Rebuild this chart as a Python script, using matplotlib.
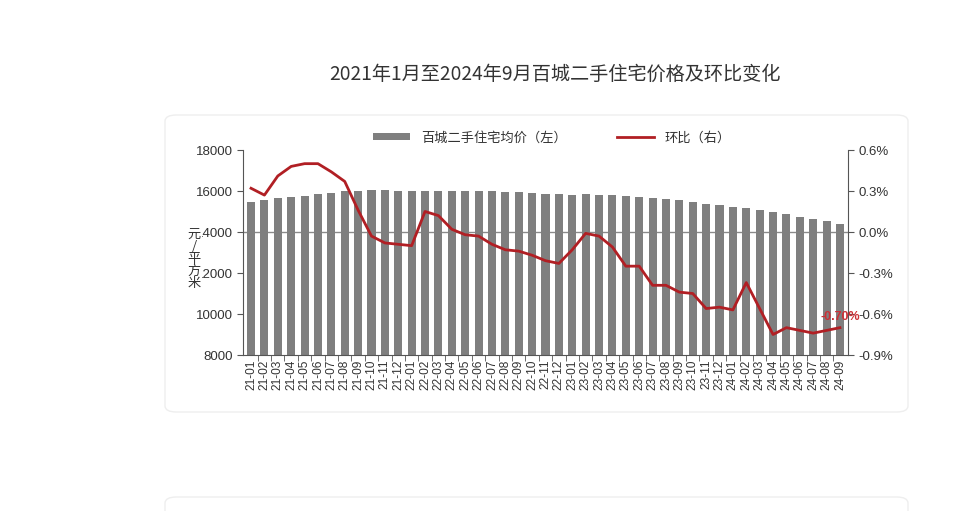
"""Build figure: 百城二手住宅价格及环比变化
"""
import numpy as np
import matplotlib
matplotlib.use('Agg')
import matplotlib.pyplot as plt
from matplotlib.patches import FancyBboxPatch
from matplotlib.lines import Line2D
from matplotlib.patches import Patch

plt.rcParams['font.family'] = ['Noto Sans CJK SC', 'DejaVu Sans']
plt.rcParams['axes.unicode_minus'] = False
num_font = ['Liberation Sans', 'Noto Sans CJK SC']

months = ['21-01', '21-02', '21-03', '21-04', '21-05', '21-06', '21-07', '21-08',
          '21-09', '21-10', '21-11', '21-12',
          '22-01', '22-02', '22-03', '22-04', '22-05', '22-06', '22-07', '22-08',
          '22-09', '22-10', '22-11', '22-12',
          '23-01', '23-02', '23-03', '23-04', '23-05', '23-06', '23-07', '23-08',
          '23-09', '23-10', '23-11', '23-12',
          '24-01', '24-02', '24-03', '24-04', '24-05', '24-06', '24-07', '24-08',
          '24-09']
# 百城二手住宅均价 (元/平方米)
price = [15480, 15550, 15640, 15690, 15770, 15860, 15900, 15990,
         16020, 16030, 16030, 16020,
         16010, 16010, 16020, 16020, 16020, 16010, 16000, 15960,
         15930, 15900, 15870, 15840,
         15810, 15830, 15820, 15800, 15760, 15710, 15640, 15600,
         15550, 15440, 15380, 15300,
         15240, 15150, 15060, 14980, 14870, 14750, 14640, 14560,
         14410]
# 环比 (%)
mom = [0.32, 0.27, 0.41, 0.48, 0.50, 0.50, 0.44, 0.37,
       0.16, -0.03, -0.08, -0.09,
       -0.10, 0.15, 0.12, 0.02, -0.02, -0.03, -0.09, -0.13,
       -0.14, -0.17, -0.21, -0.23,
       -0.13, -0.01, -0.03, -0.11, -0.25, -0.25, -0.39, -0.39,
       -0.44, -0.45, -0.56, -0.55,
       -0.57, -0.37, -0.56, -0.75, -0.70, -0.72, -0.74, -0.72,
       -0.70]
right_ticks = [0.6, 0.3, 0.0, -0.3, -0.6, -0.9]

x = np.arange(len(months))
txt = '#333333'

fig = plt.figure(figsize=(9.6, 5.11), dpi=100)

# светлая рамка вокруг графика
fig.patches.append(FancyBboxPatch((165 / 960, 1 - 412 / 511), 743 / 960, 297 / 511,
                                  boxstyle='round,pad=0,rounding_size=0.012',
                                  transform=fig.transFigure, facecolor='white',
                                  edgecolor='#eeeeee', lw=1, zorder=-5))
fig.patches.append(FancyBboxPatch((165 / 960, 1 - 530 / 511), 743 / 960, 33 / 511,
                                  boxstyle='round,pad=0,rounding_size=0.012',
                                  transform=fig.transFigure, facecolor='white',
                                  edgecolor='#eeeeee', lw=1, zorder=-5))

fig.text(0.578, 1 - 74 / 511, '2021年1月至2024年9月百城二手住宅价格及环比变化',
         ha='center', va='center', fontsize=13.8, color=txt)

ax = fig.add_axes([243 / 960, 1 - 355 / 511, 605 / 960, 205 / 511])
ax.set_facecolor('none')
ax.axhline(14000, color='#8a8a8a', lw=1, zorder=0)
ax.bar(x, price, width=0.6, color='#7f7f7f', zorder=2)
ax.set_ylim(8000, 18000)
ax.set_yticks(range(8000, 18001, 2000))
ax.set_xlim(-0.6, len(months) - 0.4)
ax.set_xticks(x)
ax.set_xticklabels(months, rotation=90, fontsize=8.6, color=txt, family=num_font)
ax.tick_params(axis='x', length=0, pad=3)
ax.set_xticks(x[:-1] + 0.5, minor=True)
ax.tick_params(axis='x', which='minor', length=4, color='#555555')
ax.tick_params(axis='y', labelsize=9.5, labelcolor=txt, length=4, color='#555555')
for lab in ax.get_yticklabels():
    lab.set_family(num_font)
ax.spines['top'].set_visible(False)
ax.spines['right'].set_visible(False)
for s in ('left', 'bottom'):
    ax.spines[s].set_color('#555555')

ax2 = ax.twinx()
ax2.plot(x, mom, color='#b11f24', lw=2, solid_joinstyle='round', zorder=3)
ax2.set_ylim(-0.9, 0.6)
ax2.set_yticks(right_ticks)
ax2.set_yticklabels(['%.1f%%' % v for v in right_ticks], family=num_font)
ax2.tick_params(axis='y', labelsize=9.5, labelcolor=txt, length=4, color='#555555')
for s in ('top', 'left', 'bottom'):
    ax2.spines[s].set_visible(False)
ax2.spines['right'].set_color('#555555')
ax2.annotate('%.2f%%' % mom[-1], (x[-1], mom[-1]), xytext=(0, 8),
             textcoords='offset points', ha='center', va='center',
             fontsize=9, color='#cc3036', fontweight='bold', family=num_font)

# подпись оси Y (вертикально), закрывает "1" у 14000 и 12000
fig.text(194 / 960, 1 - 259 / 511, '元\n/\n平\n方\n米', ha='center', va='center',
         fontsize=9.5, color=txt, linespacing=0.92,
         bbox=dict(facecolor='white', edgecolor='none', pad=1.2))

handles = [Patch(facecolor='#7f7f7f', edgecolor='none'),
           Line2D([], [], color='#b11f24', lw=2)]
fig.legend(handles, ['百城二手住宅均价（左）', '环比（右）'],
           loc='center', bbox_to_anchor=(0.575, 1 - 138 / 511), ncol=2,
           frameon=False, fontsize=9.5, handlelength=2.8, handleheight=0.45,
           columnspacing=3.8, labelcolor=txt)

fig.savefig('out.png', dpi=100)
